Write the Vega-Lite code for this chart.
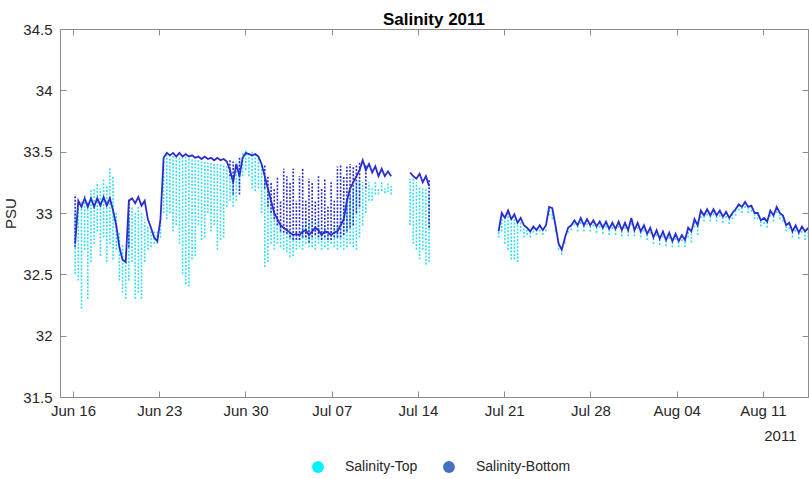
{
  "$schema": "https://vega.github.io/schema/vega-lite/v6.json",
  "width": 748,
  "height": 368,
  "autosize": {"type": "none"},
  "padding": {"left": 60, "top": 29, "right": 1, "bottom": 82},
  "background": "white",
  "title": {"text": "Salinity 2011", "fontSize": 17, "fontWeight": "bold", "color": "#000000", "offset": -7, "font": "Liberation Sans"},
  "data": {"values": [
    {"t":"2011-06-16T04:12","g":1,"b":32.75,"th":33.0,"tl":32.5,"bh":33.15,"bl":32.72},
    {"t":"2011-06-16T10:22","g":1,"b":33.1,"th":33.05,"tl":32.45},
    {"t":"2011-06-16T16:31","g":1,"b":33.05,"th":33.1,"tl":32.22},
    {"t":"2011-06-16T22:40","g":1,"b":33.12,"th":33.15,"tl":32.7},
    {"t":"2011-06-17T04:50","g":1,"b":33.05,"th":33.1,"tl":32.3},
    {"t":"2011-06-17T10:59","g":1,"b":33.12,"th":33.2,"tl":32.6},
    {"t":"2011-06-17T17:08","g":1,"b":33.05,"th":33.2,"tl":32.75},
    {"t":"2011-06-17T23:18","g":1,"b":33.12,"th":33.25,"tl":32.85},
    {"t":"2011-06-18T05:27","g":1,"b":33.06,"th":33.2,"tl":32.65},
    {"t":"2011-06-18T11:36","g":1,"b":33.13,"th":33.28,"tl":32.8},
    {"t":"2011-06-18T17:46","g":1,"b":33.06,"th":33.22,"tl":32.6},
    {"t":"2011-06-18T23:55","g":1,"b":33.12,"th":33.37,"tl":32.75},
    {"t":"2011-06-19T06:05","g":1,"b":33.02,"th":33.3,"tl":32.62},
    {"t":"2011-06-19T12:14","g":1,"b":32.9,"th":33.0,"tl":32.7},
    {"t":"2011-06-19T18:23","g":1,"b":32.72,"th":32.85,"tl":32.45},
    {"t":"2011-06-20T00:33","g":1,"b":32.62,"th":32.75,"tl":32.35},
    {"t":"2011-06-20T06:42","g":1,"b":32.6,"th":32.7,"tl":32.3},
    {"t":"2011-06-20T12:51","g":1,"b":33.1,"th":32.95,"tl":32.45,"bh":33.12,"bl":32.72},
    {"t":"2011-06-20T19:01","g":1,"b":33.12,"th":33.05,"tl":32.6},
    {"t":"2011-06-21T01:10","g":1,"b":33.08,"th":33.0,"tl":32.3},
    {"t":"2011-06-21T07:19","g":1,"b":33.13,"th":33.05,"tl":32.35},
    {"t":"2011-06-21T13:29","g":1,"b":33.06,"th":33.0,"tl":32.3},
    {"t":"2011-06-21T19:38","g":1,"b":33.1,"th":32.95,"tl":32.6},
    {"t":"2011-06-22T01:47","g":1,"b":32.95,"th":32.9,"tl":32.7},
    {"t":"2011-06-22T07:57","g":1,"b":32.88,"th":32.85,"tl":32.72},
    {"t":"2011-06-22T14:06","g":1,"b":32.8,"th":32.85,"tl":32.75},
    {"t":"2011-06-22T20:15","g":1,"b":32.77,"th":32.85,"tl":32.75},
    {"t":"2011-06-23T02:25","g":1,"b":32.95,"th":32.95,"tl":32.8},
    {"t":"2011-06-23T08:34","g":1,"b":33.45,"th":33.42,"tl":33.0},
    {"t":"2011-06-23T14:44","g":1,"b":33.49,"th":33.47,"tl":32.95},
    {"t":"2011-06-23T20:53","g":1,"b":33.47,"th":33.46,"tl":33.0},
    {"t":"2011-06-24T03:02","g":1,"b":33.49,"th":33.47,"tl":32.85},
    {"t":"2011-06-24T09:12","g":1,"b":33.46,"th":33.45,"tl":32.9},
    {"t":"2011-06-24T15:21","g":1,"b":33.49,"th":33.46,"tl":32.75},
    {"t":"2011-06-24T21:30","g":1,"b":33.46,"th":33.45,"tl":32.5},
    {"t":"2011-06-25T03:40","g":1,"b":33.48,"th":33.46,"tl":32.42},
    {"t":"2011-06-25T09:49","g":1,"b":33.46,"th":33.45,"tl":32.4},
    {"t":"2011-06-25T15:58","g":1,"b":33.47,"th":33.44,"tl":32.62},
    {"t":"2011-06-25T22:08","g":1,"b":33.45,"th":33.43,"tl":32.65},
    {"t":"2011-06-26T04:17","g":1,"b":33.46,"th":33.43,"tl":32.9},
    {"t":"2011-06-26T10:26","g":1,"b":33.44,"th":33.42,"tl":32.78},
    {"t":"2011-06-26T16:36","g":1,"b":33.46,"th":33.42,"tl":32.8},
    {"t":"2011-06-26T22:45","g":1,"b":33.44,"th":33.41,"tl":33.0},
    {"t":"2011-06-27T04:54","g":1,"b":33.45,"th":33.42,"tl":32.85},
    {"t":"2011-06-27T11:04","g":1,"b":33.43,"th":33.4,"tl":32.9},
    {"t":"2011-06-27T17:13","g":1,"b":33.45,"th":33.4,"tl":32.7},
    {"t":"2011-06-27T23:22","g":1,"b":33.43,"th":33.4,"tl":32.78},
    {"t":"2011-06-28T05:32","g":1,"b":33.44,"th":33.4,"tl":32.8},
    {"t":"2011-06-28T11:41","g":1,"b":33.42,"th":33.38,"tl":33.05},
    {"t":"2011-06-28T17:50","g":1,"b":33.35,"th":33.35,"tl":33.1,"bh":33.43,"bl":33.3},
    {"t":"2011-06-29T00:00","g":1,"b":33.25,"th":33.3,"tl":33.05,"bh":33.42,"bl":33.15},
    {"t":"2011-06-29T06:09","g":1,"b":33.4,"th":33.42,"tl":33.1},
    {"t":"2011-06-29T12:19","g":1,"b":33.3,"th":33.45,"tl":33.2,"bh":33.45,"bl":33.15},
    {"t":"2011-06-29T18:28","g":1,"b":33.45,"th":33.5,"tl":33.3},
    {"t":"2011-06-30T00:37","g":1,"b":33.49,"th":33.52,"tl":33.35},
    {"t":"2011-06-30T06:47","g":1,"b":33.48,"th":33.5,"tl":33.3},
    {"t":"2011-06-30T12:56","g":1,"b":33.47,"th":33.5,"tl":33.2},
    {"t":"2011-06-30T19:05","g":1,"b":33.48,"th":33.47,"tl":33.18},
    {"t":"2011-07-01T01:15","g":1,"b":33.46,"th":33.46,"tl":33.2},
    {"t":"2011-07-01T07:24","g":1,"b":33.4,"th":33.4,"tl":33.0},
    {"t":"2011-07-01T13:33","g":1,"b":33.3,"th":33.3,"tl":32.56,"bh":33.4,"bl":33.2},
    {"t":"2011-07-01T19:43","g":1,"b":33.2,"th":33.2,"tl":32.6,"bh":33.3,"bl":33.05},
    {"t":"2011-07-02T01:52","g":1,"b":33.1,"th":33.1,"tl":32.75,"bh":33.25,"bl":33.0},
    {"t":"2011-07-02T08:01","g":1,"b":33.0,"th":33.0,"tl":32.7,"bh":33.2,"bl":32.95},
    {"t":"2011-07-02T14:11","g":1,"b":32.95,"th":32.95,"tl":32.75,"bh":33.3,"bl":32.9},
    {"t":"2011-07-02T20:20","g":1,"b":32.9,"th":32.9,"tl":32.72,"bh":33.1,"bl":32.85},
    {"t":"2011-07-03T02:29","g":1,"b":32.88,"th":32.85,"tl":32.7,"bh":33.36,"bl":32.84},
    {"t":"2011-07-03T08:39","g":1,"b":32.86,"th":32.85,"tl":32.68,"bh":33.3,"bl":32.83},
    {"t":"2011-07-03T14:48","g":1,"b":32.84,"th":32.85,"tl":32.64,"bh":33.25,"bl":32.8},
    {"t":"2011-07-03T20:57","g":1,"b":32.82,"th":32.82,"tl":32.65,"bh":33.36,"bl":32.78},
    {"t":"2011-07-04T03:07","g":1,"b":32.83,"th":32.8,"tl":32.7,"bh":33.1,"bl":32.78},
    {"t":"2011-07-04T09:16","g":1,"b":32.82,"th":32.85,"tl":32.72,"bh":33.3,"bl":32.78},
    {"t":"2011-07-04T15:26","g":1,"b":32.85,"th":32.9,"tl":32.7,"bh":33.36,"bl":32.8},
    {"t":"2011-07-04T21:35","g":1,"b":32.86,"th":32.95,"tl":32.75,"bh":33.1,"bl":32.8},
    {"t":"2011-07-05T03:44","g":1,"b":32.82,"th":32.9,"tl":32.72,"bh":33.28,"bl":32.76},
    {"t":"2011-07-05T09:54","g":1,"b":32.85,"th":32.95,"tl":32.72,"bh":33.25,"bl":32.8},
    {"t":"2011-07-05T16:03","g":1,"b":32.88,"th":32.9,"tl":32.7,"bh":33.1,"bl":32.82},
    {"t":"2011-07-05T22:12","g":1,"b":32.86,"th":32.95,"tl":32.75,"bh":33.3,"bl":32.8},
    {"t":"2011-07-06T04:22","g":1,"b":32.82,"th":32.85,"tl":32.7,"bh":33.2,"bl":32.78},
    {"t":"2011-07-06T10:31","g":1,"b":32.85,"th":32.9,"tl":32.72,"bh":33.28,"bl":32.8},
    {"t":"2011-07-06T16:40","g":1,"b":32.84,"th":32.85,"tl":32.7,"bh":33.05,"bl":32.78},
    {"t":"2011-07-06T22:50","g":1,"b":32.82,"th":32.85,"tl":32.75,"bh":33.25,"bl":32.78},
    {"t":"2011-07-07T04:59","g":1,"b":32.84,"th":32.88,"tl":32.72,"bh":33.1,"bl":32.8},
    {"t":"2011-07-07T11:08","g":1,"b":32.85,"th":32.9,"tl":32.7,"bh":33.38,"bl":32.8},
    {"t":"2011-07-07T17:18","g":1,"b":32.9,"th":33.0,"tl":32.72,"bh":33.4,"bl":32.8},
    {"t":"2011-07-07T23:27","g":1,"b":32.95,"th":33.05,"tl":32.7,"bh":33.3,"bl":32.82},
    {"t":"2011-07-08T05:36","g":1,"b":33.1,"th":33.1,"tl":32.72,"bh":33.38,"bl":32.85},
    {"t":"2011-07-08T11:46","g":1,"b":33.2,"th":33.15,"tl":32.75,"bh":33.4,"bl":32.88},
    {"t":"2011-07-08T17:55","g":1,"b":33.25,"th":33.2,"tl":32.72,"bh":33.38,"bl":32.9},
    {"t":"2011-07-09T00:04","g":1,"b":33.3,"th":33.25,"tl":32.7,"bh":33.4,"bl":33.0},
    {"t":"2011-07-09T06:14","g":1,"b":33.35,"th":33.25,"tl":32.8,"bh":33.42,"bl":33.05},
    {"t":"2011-07-09T12:23","g":1,"b":33.43,"th":33.25,"tl":32.9},
    {"t":"2011-07-09T18:33","g":1,"b":33.35,"th":33.2,"tl":33.0,"bh":33.4,"bl":33.2},
    {"t":"2011-07-10T00:42","g":1,"b":33.4,"th":33.25,"tl":33.1},
    {"t":"2011-07-10T06:51","g":1,"b":33.33,"th":33.2,"tl":33.1},
    {"t":"2011-07-10T13:01","g":1,"b":33.38,"th":33.25,"tl":33.15},
    {"t":"2011-07-10T19:10","g":1,"b":33.3,"th":33.2,"tl":33.15},
    {"t":"2011-07-11T01:19","g":1,"b":33.36,"th":33.25,"tl":33.18},
    {"t":"2011-07-11T07:29","g":1,"b":33.3,"th":33.2,"tl":33.16},
    {"t":"2011-07-11T13:38","g":1,"b":33.34,"th":33.24,"tl":33.17},
    {"t":"2011-07-11T19:47","g":1,"b":33.3,"th":33.22,"tl":33.15},
    {"t":"2011-07-13T08:43","g":2,"b":33.33,"th":33.28,"tl":32.9},
    {"t":"2011-07-13T14:53","g":2,"b":33.3,"th":33.3,"tl":32.75},
    {"t":"2011-07-13T21:02","g":2,"b":33.28,"th":33.25,"tl":32.7},
    {"t":"2011-07-14T03:11","g":2,"b":33.32,"th":33.22,"tl":32.62},
    {"t":"2011-07-14T09:21","g":2,"b":33.25,"th":33.2,"tl":32.7},
    {"t":"2011-07-14T15:30","g":2,"b":33.3,"th":33.2,"tl":32.58},
    {"t":"2011-07-14T21:40","g":2,"b":33.22,"th":33.15,"tl":32.6,"bh":33.28,"bl":32.88},
    {"t":"2011-07-20T13:05","g":3,"b":32.85,"th":32.85,"tl":32.8},
    {"t":"2011-07-20T19:15","g":3,"b":33.0,"th":32.98,"tl":32.85},
    {"t":"2011-07-21T01:24","g":3,"b":32.96,"th":32.95,"tl":32.75},
    {"t":"2011-07-21T07:33","g":3,"b":33.02,"th":33.0,"tl":32.7},
    {"t":"2011-07-21T13:43","g":3,"b":32.95,"th":32.93,"tl":32.62},
    {"t":"2011-07-21T19:52","g":3,"b":32.99,"th":32.97,"tl":32.62},
    {"t":"2011-07-22T02:01","g":3,"b":32.92,"th":32.9,"tl":32.6},
    {"t":"2011-07-22T08:11","g":3,"b":32.96,"th":32.93,"tl":32.85},
    {"t":"2011-07-22T14:20","g":3,"b":32.9,"th":32.88,"tl":32.8},
    {"t":"2011-07-22T20:29","g":3,"b":32.88,"th":32.87,"tl":32.82},
    {"t":"2011-07-23T02:39","g":3,"b":32.85,"th":32.84,"tl":32.8},
    {"t":"2011-07-23T08:48","g":3,"b":32.89,"th":32.88,"tl":32.84},
    {"t":"2011-07-23T14:57","g":3,"b":32.86,"th":32.85,"tl":32.82},
    {"t":"2011-07-23T21:07","g":3,"b":32.9,"th":32.88,"tl":32.85},
    {"t":"2011-07-24T03:16","g":3,"b":32.86,"th":32.85,"tl":32.82},
    {"t":"2011-07-24T09:25","g":3,"b":32.9,"th":32.88,"tl":32.85},
    {"t":"2011-07-24T15:35","g":3,"b":33.05,"th":33.03,"tl":32.98},
    {"t":"2011-07-24T21:44","g":3,"b":33.04,"th":33.02,"tl":32.95},
    {"t":"2011-07-25T03:54","g":3,"b":32.9,"th":32.88,"tl":32.85},
    {"t":"2011-07-25T10:03","g":3,"b":32.75,"th":32.74,"tl":32.7},
    {"t":"2011-07-25T16:12","g":3,"b":32.7,"th":32.69,"tl":32.66},
    {"t":"2011-07-25T22:22","g":3,"b":32.8,"th":32.79,"tl":32.75},
    {"t":"2011-07-26T04:31","g":3,"b":32.88,"th":32.87,"tl":32.84},
    {"t":"2011-07-26T10:40","g":3,"b":32.9,"th":32.89,"tl":32.86},
    {"t":"2011-07-26T16:50","g":3,"b":32.94,"th":32.93,"tl":32.9},
    {"t":"2011-07-26T22:59","g":3,"b":32.9,"th":32.89,"tl":32.85},
    {"t":"2011-07-27T05:08","g":3,"b":32.96,"th":32.95,"tl":32.91},
    {"t":"2011-07-27T11:18","g":3,"b":32.9,"th":32.89,"tl":32.85},
    {"t":"2011-07-27T17:27","g":3,"b":32.95,"th":32.94,"tl":32.9},
    {"t":"2011-07-27T23:36","g":3,"b":32.9,"th":32.89,"tl":32.85},
    {"t":"2011-07-28T05:46","g":3,"b":32.94,"th":32.93,"tl":32.89},
    {"t":"2011-07-28T11:55","g":3,"b":32.89,"th":32.88,"tl":32.84},
    {"t":"2011-07-28T18:04","g":3,"b":32.93,"th":32.92,"tl":32.88},
    {"t":"2011-07-29T00:14","g":3,"b":32.88,"th":32.87,"tl":32.83},
    {"t":"2011-07-29T06:23","g":3,"b":32.93,"th":32.92,"tl":32.88},
    {"t":"2011-07-29T12:32","g":3,"b":32.87,"th":32.86,"tl":32.82},
    {"t":"2011-07-29T18:42","g":3,"b":32.92,"th":32.91,"tl":32.87},
    {"t":"2011-07-30T00:51","g":3,"b":32.87,"th":32.86,"tl":32.82},
    {"t":"2011-07-30T07:01","g":3,"b":32.93,"th":32.92,"tl":32.88},
    {"t":"2011-07-30T13:10","g":3,"b":32.86,"th":32.85,"tl":32.81},
    {"t":"2011-07-30T19:19","g":3,"b":32.92,"th":32.91,"tl":32.87},
    {"t":"2011-07-31T01:29","g":3,"b":32.86,"th":32.85,"tl":32.81},
    {"t":"2011-07-31T07:38","g":3,"b":32.96,"th":32.95,"tl":32.9},
    {"t":"2011-07-31T13:47","g":3,"b":32.86,"th":32.85,"tl":32.81},
    {"t":"2011-07-31T19:57","g":3,"b":32.92,"th":32.91,"tl":32.87},
    {"t":"2011-08-01T02:06","g":3,"b":32.85,"th":32.84,"tl":32.8},
    {"t":"2011-08-01T08:15","g":3,"b":32.9,"th":32.89,"tl":32.85},
    {"t":"2011-08-01T14:25","g":3,"b":32.83,"th":32.82,"tl":32.78},
    {"t":"2011-08-01T20:34","g":3,"b":32.88,"th":32.87,"tl":32.83},
    {"t":"2011-08-02T02:43","g":3,"b":32.8,"th":32.79,"tl":32.75},
    {"t":"2011-08-02T08:53","g":3,"b":32.86,"th":32.85,"tl":32.81},
    {"t":"2011-08-02T15:02","g":3,"b":32.79,"th":32.78,"tl":32.74},
    {"t":"2011-08-02T21:11","g":3,"b":32.85,"th":32.84,"tl":32.8},
    {"t":"2011-08-03T03:21","g":3,"b":32.78,"th":32.77,"tl":32.73},
    {"t":"2011-08-03T09:30","g":3,"b":32.84,"th":32.83,"tl":32.79},
    {"t":"2011-08-03T15:40","g":3,"b":32.77,"th":32.76,"tl":32.72},
    {"t":"2011-08-03T21:49","g":3,"b":32.83,"th":32.82,"tl":32.78},
    {"t":"2011-08-04T03:58","g":3,"b":32.77,"th":32.76,"tl":32.72},
    {"t":"2011-08-04T10:08","g":3,"b":32.82,"th":32.81,"tl":32.77},
    {"t":"2011-08-04T16:17","g":3,"b":32.78,"th":32.77,"tl":32.72},
    {"t":"2011-08-04T22:26","g":3,"b":32.88,"th":32.87,"tl":32.8},
    {"t":"2011-08-05T04:36","g":3,"b":32.85,"th":32.84,"tl":32.76},
    {"t":"2011-08-05T10:45","g":3,"b":32.95,"th":32.94,"tl":32.88},
    {"t":"2011-08-05T16:54","g":3,"b":32.9,"th":32.89,"tl":32.82},
    {"t":"2011-08-05T23:04","g":3,"b":33.02,"th":33.01,"tl":32.96},
    {"t":"2011-08-06T05:13","g":3,"b":32.98,"th":32.97,"tl":32.93},
    {"t":"2011-08-06T11:22","g":3,"b":33.03,"th":33.02,"tl":32.98},
    {"t":"2011-08-06T17:32","g":3,"b":32.98,"th":32.97,"tl":32.93},
    {"t":"2011-08-06T23:41","g":3,"b":33.03,"th":33.02,"tl":32.98},
    {"t":"2011-08-07T05:50","g":3,"b":32.98,"th":32.97,"tl":32.93},
    {"t":"2011-08-07T12:00","g":3,"b":33.02,"th":33.01,"tl":32.97},
    {"t":"2011-08-07T18:09","g":3,"b":32.97,"th":32.96,"tl":32.92},
    {"t":"2011-08-08T00:18","g":3,"b":33.01,"th":33.0,"tl":32.96},
    {"t":"2011-08-08T06:28","g":3,"b":32.96,"th":32.95,"tl":32.91},
    {"t":"2011-08-08T12:37","g":3,"b":33.0,"th":32.99,"tl":32.95},
    {"t":"2011-08-08T18:46","g":3,"b":33.03,"th":33.02,"tl":32.98},
    {"t":"2011-08-09T00:56","g":3,"b":33.07,"th":33.06,"tl":33.02},
    {"t":"2011-08-09T07:05","g":3,"b":33.05,"th":33.04,"tl":33.0},
    {"t":"2011-08-09T13:14","g":3,"b":33.09,"th":33.08,"tl":33.04},
    {"t":"2011-08-09T19:24","g":3,"b":33.05,"th":33.04,"tl":33.0},
    {"t":"2011-08-10T01:33","g":3,"b":33.06,"th":33.05,"tl":33.01},
    {"t":"2011-08-10T07:42","g":3,"b":33.0,"th":32.99,"tl":32.95},
    {"t":"2011-08-10T13:52","g":3,"b":33.0,"th":32.99,"tl":32.95},
    {"t":"2011-08-10T20:01","g":3,"b":32.94,"th":32.93,"tl":32.89},
    {"t":"2011-08-11T02:11","g":3,"b":32.96,"th":32.95,"tl":32.91},
    {"t":"2011-08-11T08:20","g":3,"b":32.93,"th":32.92,"tl":32.88},
    {"t":"2011-08-11T14:29","g":3,"b":33.02,"th":33.01,"tl":32.97},
    {"t":"2011-08-11T20:39","g":3,"b":32.98,"th":32.97,"tl":32.93},
    {"t":"2011-08-12T02:48","g":3,"b":33.05,"th":33.04,"tl":33.0},
    {"t":"2011-08-12T08:57","g":3,"b":33.0,"th":32.99,"tl":32.95},
    {"t":"2011-08-12T15:07","g":3,"b":32.98,"th":32.97,"tl":32.93},
    {"t":"2011-08-12T21:16","g":3,"b":32.9,"th":32.89,"tl":32.85},
    {"t":"2011-08-13T03:25","g":3,"b":32.92,"th":32.91,"tl":32.87},
    {"t":"2011-08-13T09:35","g":3,"b":32.85,"th":32.84,"tl":32.8},
    {"t":"2011-08-13T15:44","g":3,"b":32.9,"th":32.89,"tl":32.85},
    {"t":"2011-08-13T21:53","g":3,"b":32.84,"th":32.83,"tl":32.79},
    {"t":"2011-08-14T04:03","g":3,"b":32.89,"th":32.88,"tl":32.84},
    {"t":"2011-08-14T10:12","g":3,"b":32.85,"th":32.84,"tl":32.78},
    {"t":"2011-08-14T16:22","g":3,"b":32.88,"th":32.87,"tl":32.8}
  ]},
  "layer": [
    {
      "mark": {"type": "rule", "color": "#2EE0F0", "strokeWidth": 1.6, "strokeDash": [2, 1.5], "clip": true},
      "encoding": {
        "x": {"field": "t", "type": "temporal",
              "scale": {"domain": [{"year": 2011, "month": 6, "date": 14, "hours": 22, "minutes": 41}, {"year": 2011, "month": 8, "date": 14, "hours": 15, "minutes": 50}]},
              "axis": {"orient": "bottom", "title": "2011", "titleX": 736, "titleY": 43, "titleAlign": "right", "titleAnchor": "end", "titleBaseline": "alphabetic", "tickSize": -6, "labelPadding": 12, "format": "%b %d",
                       "values": [{"year": 2011, "month": 6, "date": 16}, {"year": 2011, "month": 6, "date": 23}, {"year": 2011, "month": 6, "date": 30}, {"year": 2011, "month": 7, "date": 7}, {"year": 2011, "month": 7, "date": 14}, {"year": 2011, "month": 7, "date": 21}, {"year": 2011, "month": 7, "date": 28}, {"year": 2011, "month": 8, "date": 4}, {"year": 2011, "month": 8, "date": 11}]}},
        "y": {"field": "tl", "type": "quantitative",
              "scale": {"domain": [31.5, 34.5], "nice": false, "zero": false},
              "axis": {"orient": "left", "title": "PSU", "tickSize": -6, "labelPadding": 14, "titlePadding": 4, "format": "~g",
                       "values": [31.5, 32, 32.5, 33, 33.5, 34, 34.5]}},
        "y2": {"field": "th"}
      }
    },
    {
      "mark": {"type": "rule", "color": "#2B2BCF", "strokeWidth": 1.6, "strokeDash": [2, 1.5], "clip": true},
      "encoding": {
        "x": {"field": "t", "type": "temporal", "axis": null},
        "y": {"field": "bl", "type": "quantitative", "axis": null},
        "y2": {"field": "bh"}
      }
    },
    {
      "mark": {"type": "line", "color": "#2B2BCF", "strokeWidth": 1.8, "clip": true},
      "encoding": {
        "x": {"field": "t", "type": "temporal", "axis": null},
        "y": {"field": "b", "type": "quantitative", "axis": null},
        "detail": {"field": "g", "type": "nominal"}
      }
    },
    {
      "mark": {"type": "point", "filled": true, "opacity": 0, "size": 10, "clip": true},
      "encoding": {
        "x": {"field": "t", "type": "temporal", "axis": null},
        "y": {"field": "th", "type": "quantitative", "axis": null},
        "color": {"datum": "Salinity-Top", "type": "nominal",
                  "scale": {"domain": ["Salinity-Top", "Salinity-Bottom"], "range": ["#00F2FF", "#4472C4"]},
                  "legend": {"orient": "none", "legendX": 251, "legendY": 431, "direction": "horizontal", "title": null, "symbolType": "circle", "symbolSize": 140, "symbolStrokeWidth": 0, "symbolOpacity": 1, "labelFontSize": 14, "labelColor": "#262626", "labelOffset": 20, "columnPadding": 24, "padding": 0}}
      }
    },
    {
      "mark": {"type": "point", "filled": true, "opacity": 0, "size": 10, "clip": true},
      "encoding": {
        "x": {"field": "t", "type": "temporal",
              "axis": {"orient": "top", "title": null, "labels": false, "tickSize": -6,
                       "values": [{"year": 2011, "month": 6, "date": 16}, {"year": 2011, "month": 6, "date": 23}, {"year": 2011, "month": 6, "date": 30}, {"year": 2011, "month": 7, "date": 7}, {"year": 2011, "month": 7, "date": 14}, {"year": 2011, "month": 7, "date": 21}, {"year": 2011, "month": 7, "date": 28}, {"year": 2011, "month": 8, "date": 4}, {"year": 2011, "month": 8, "date": 11}]}},
        "y": {"field": "b", "type": "quantitative",
              "axis": {"orient": "right", "title": null, "labels": false, "tickSize": -6, "values": [31.5, 32, 32.5, 33, 33.5, 34, 34.5]}},
        "color": {"datum": "Salinity-Bottom", "type": "nominal",
                  "scale": {"domain": ["Salinity-Top", "Salinity-Bottom"], "range": ["#00F2FF", "#4472C4"]},
                  "legend": {"orient": "none", "legendX": 251, "legendY": 431, "direction": "horizontal", "title": null, "symbolType": "circle", "symbolSize": 140, "symbolStrokeWidth": 0, "symbolOpacity": 1, "labelFontSize": 14, "labelColor": "#262626", "labelOffset": 20, "columnPadding": 24, "padding": 0}}
      }
    }
  ],
  "resolve": {"axis": {"x": "independent", "y": "independent"}},
  "config": {
    "font": "Liberation Sans",
    "view": {"stroke": null},
    "axis": {"domainColor": "#8c8c8c", "tickColor": "#8c8c8c", "labelColor": "#262626", "labelFontSize": 15, "titleFontSize": 15, "titleFontWeight": "normal", "titleColor": "#262626", "grid": false, "labelFlush": false, "labelOverlap": false, "labelFont": "Liberation Sans", "titleFont": "Liberation Sans"},
    "legend": {"labelFont": "Liberation Sans"}
  }
}
